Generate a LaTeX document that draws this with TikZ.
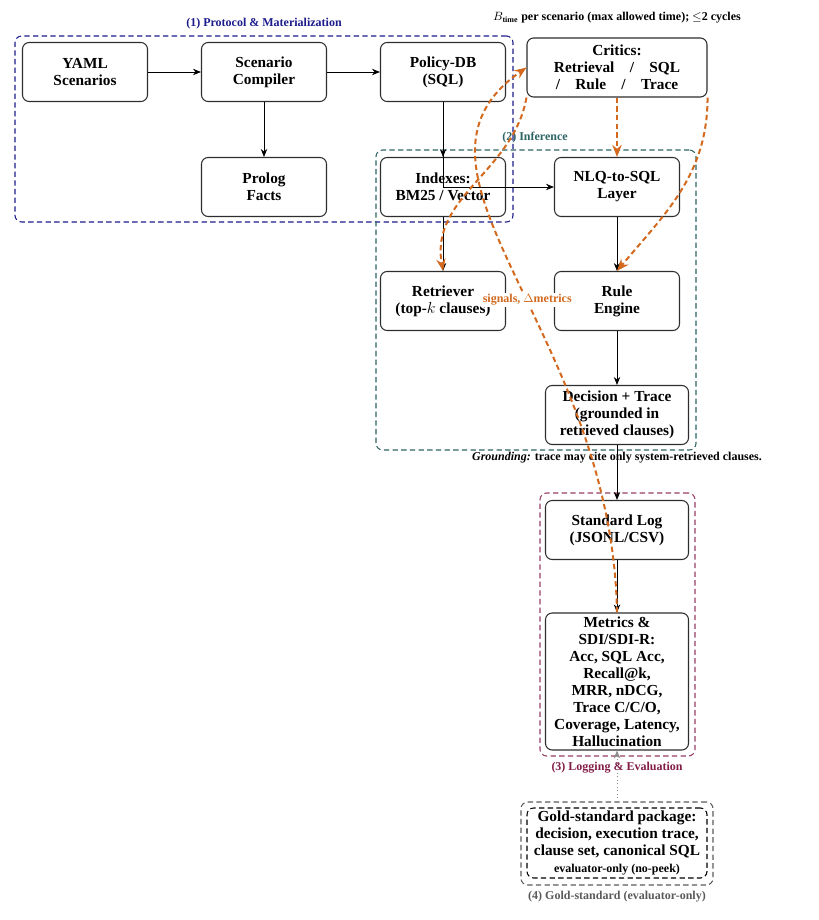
\documentclass[tikz,border=0pt]{standalone}
\usepackage{amsmath}
\usepackage{fontspec}
\setmainfont{Liberation Serif}
\usetikzlibrary{arrows.meta}
\definecolor{cone}{RGB}{28,28,140}
\definecolor{ctwo}{RGB}{45,100,100}
\definecolor{cthree}{RGB}{130,28,70}
\definecolor{cthreebox}{RGB}{150,60,100}
\definecolor{cfour}{RGB}{90,90,90}
\definecolor{fbc}{RGB}{210,105,30}
\definecolor{boxc}{RGB}{45,45,45}
\newcommand\boxfont{\fontsize{11.5}{12.75}\selectfont\bfseries}
\newcommand\lblfont{\fontsize{9}{10.5}\selectfont\bfseries}
\begin{document}
\begin{tikzpicture}[x=0.75pt,y=0.75pt,
  box/.style={draw=boxc, line width=0.8pt, rounded corners=5pt, align=center, font=\boxfont,
    minimum width=93.75pt, minimum height=44.25pt, inner sep=1.5pt},
  grp/.style={line width=0.8pt, rounded corners=5pt, dash pattern=on 4pt off 2.5pt, minimum width=10pt},
  lbl/.style={font=\lblfont, inner sep=1pt},
  arr/.style={-{Stealth[length=6pt,width=4.8pt]}, line width=0.6pt, black},
  fb/.style={draw=fbc, line width=1.5pt, dash pattern=on 4pt off 2.5pt, -{Stealth[length=9pt,width=7pt]}}
]
\useasboundingbox (0,0) rectangle (818,-920);

% groups
\node[grp, draw=cone, minimum width=373.5pt, minimum height=139.5pt] (g1) at (264,-129) {};
\node[grp, draw=ctwo, minimum width=240pt, minimum height=225pt] (g2) at (536,-300) {};
\node[grp, draw=cthreebox, minimum width=116.25pt, minimum height=197.25pt] (g3) at (617.5,-624.5) {};
\node[grp, draw=cfour, minimum width=144pt, minimum height=62.25pt] (g4) at (617,-843.5) {};

\node[lbl, text=cone] (l1) at (264,-24) {(1) Protocol \& Materialization};
\node[lbl, text=ctwo] (l2) at (535,-138) {(2) Inference};
\node[lbl, text=cthree] (l3) at (617,-768) {(3) Logging \& Evaluation};
\node[lbl, text=cfour] (l4) at (617,-897) {(4) Gold-standard (evaluator-only)};

\node[lbl] (btime) at (617,-18) {$B_{\text{time}}$ per scenario (max allowed time); $\leq$2 cycles};
\node[lbl] (ground) at (617,-458) {\textit{Grounding:} trace may cite only system-retrieved clauses.};

% nodes
\node[box] (yaml) at (85,-72) {YAML\\Scenarios};
\node[box] (comp) at (264,-72) {Scenario\\Compiler};
\node[box] (policy) at (443,-72) {Policy-DB\\(SQL)};
\node[box] (prolog) at (264,-187) {Prolog\\Facts};
\node[box] (index) at (443,-187) {Indexes:\\BM25 / Vector};
\node[box] (nlq) at (617,-187) {NLQ-to-SQL\\Layer};
\node[box] (retr) at (443,-301) {Retriever\\(top-$k$ clauses)};
\node[box] (rule) at (617,-301) {Rule\\Engine};
\node[box, minimum width=107.25pt] (dec) at (617,-415) {Decision + Trace\\(grounded in\\retrieved clauses)};
\node[box, minimum width=107.25pt] (log) at (617,-530) {Standard Log\\(JSONL/CSV)};
\node[box, minimum width=107.25pt, minimum height=102.75pt, inner ysep=0.5pt] (metrics) at (617,-681.5)
  {Metrics \&\\SDI/SDI-R:\\Acc, SQL Acc,\\Recall@k,\\MRR, nDCG,\\Trace C/C/O,\\Coverage, Latency,\\Hallucination};
\node[box, minimum width=135pt] (critics) at (617,-67.5)
  {Critics:\\Retrieval\quad/\quad SQL\\/\quad Rule\quad/\quad Trace};
\node[box, draw=black, dash pattern=on 4pt off 2.5pt, minimum width=135pt, minimum height=52.5pt] (gold) at (617,-843)
  {Gold-standard package:\\decision, execution trace,\\clause set, canonical SQL\\{\lblfont evaluator-only (no-peek)}};

% arrows
\draw[arr] (yaml) -- (comp);
\draw[arr] (comp) -- (policy);
\draw[arr] (comp) -- (prolog);
\draw[arr] (policy) -- (index);
\draw[arr] (policy.south) |- (nlq.west);
\draw[arr] (index) -- (retr);
\draw[arr] (nlq) -- (rule);
\draw[arr] (rule) -- (dec);
\draw[arr] (dec) -- (log);
\draw[arr] (log) -- (metrics);
\draw[-{Stealth[length=6pt,width=4.8pt]}, cfour!70, line width=0.6pt, dotted] (g4.north) -- (metrics.south);

% feedback
\draw[fb] (critics.south) -- (nlq.north);
\draw[fb] (critics.south east) to[out=-90,in=50] (rule.north);
\draw[fb] (critics.south west) to[out=-100,in=100] (retr.north);
\draw[fb] (metrics.north) to[out=91,in=215,out distance=212pt,in distance=135pt]
  node[pos=0.45, fill=white, inner sep=1pt, font=\lblfont, text=fbc] (siglbl) {signals, $\Delta$metrics} (critics.west);
\end{tikzpicture}
\end{document}
